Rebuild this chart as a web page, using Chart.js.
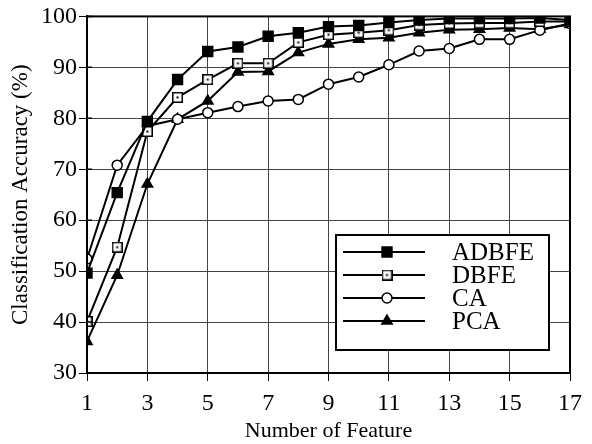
<!DOCTYPE html>
<html>
<head>
<meta charset="utf-8">
<script src="https://cdn.jsdelivr.net/npm/chart.js@4"></script>
<style>
  html, body { margin: 0; padding: 0; background: #fff; }
  canvas { display: block; }
</style>
</head>
<body>
<canvas id="chart" width="592" height="444"></canvas>
<script>
const features = [1, 2, 3, 4, 5, 6, 7, 8, 9, 10, 11, 12, 13, 14, 15, 16, 17];
const adbfe = [49.6, 65.4, 79.4, 87.6, 93.1, 94.0, 96.1, 96.8, 98.0, 98.2, 98.8, 99.3, 99.6, 99.6, 99.6, 99.7, 99.3];
const dbfe = [40.1, 54.7, 77.4, 84.1, 87.6, 90.8, 90.8, 94.9, 96.4, 96.8, 97.3, 98.3, 98.6, 98.7, 98.7, 99.0, 99.0];
const ca = [52.4, 70.8, 78.5, 79.8, 81.1, 82.3, 83.4, 83.7, 86.7, 88.1, 90.5, 93.2, 93.7, 95.5, 95.5, 97.3, 98.6];
const pca = [36.2, 49.2, 67.1, 79.8, 83.4, 89.1, 89.2, 92.9, 94.6, 95.5, 95.8, 96.8, 97.4, 97.5, 97.7, 97.5, 98.4];
const seriesNames = ["ADBFE", "DBFE", "CA", "PCA"];
const xTicks = [1, 3, 5, 7, 9, 11, 13, 15, 17];
const yTicks = [30, 40, 50, 60, 70, 80, 90, 100];

const FONT = "'Liberation Serif', 'Times New Roman', serif";

// open square with a small dot in the middle
function dottedSquare() {
  const c = document.createElement("canvas");
  c.width = 11; c.height = 11;
  const g = c.getContext("2d");
  g.fillStyle = "#fff";
  g.fillRect(0, 0, 11, 11);
  g.strokeStyle = "#000";
  g.lineWidth = 1.5;
  g.strokeRect(0.75, 0.75, 9.5, 9.5);
  g.fillStyle = "#000";
  g.fillRect(4.5, 4.5, 2, 2);
  return c;
}

const toPts = arr => arr.map((v, i) => ({ x: features[i], y: v }));

const styles = [
  { pointStyle: "rect", pointRadius: 7, pointBackgroundColor: "#000" },
  { pointStyle: dottedSquare(), pointRadius: 6, pointBackgroundColor: "#fff" },
  { pointStyle: "circle", pointRadius: 5, pointBackgroundColor: "#fff" },
  { pointStyle: "triangle", pointRadius: 6, pointBackgroundColor: "#000" }
];

const datasets = [adbfe, dbfe, ca, pca].map((arr, i) => Object.assign({
  label: seriesNames[i],
  data: toPts(arr),
  borderColor: "#000",
  borderWidth: 2,
  pointBorderColor: "#000",
  pointBorderWidth: 1.5,
  tension: 0
}, styles[i]));

// frame, inner tick marks and boxed legend
const framePlugin = {
  id: "frame",
  afterDatasetsDraw(chart) {
    const { ctx, chartArea: a, scales } = chart;
    ctx.save();
    ctx.strokeStyle = "#000";
    ctx.lineWidth = 2;
    ctx.strokeRect(a.left, a.top, a.right - a.left, a.bottom - a.top);
    ctx.lineWidth = 1.5;
    ctx.beginPath();
    yTicks.forEach(t => {
      const y = scales.y.getPixelForValue(t);
      ctx.moveTo(a.left, y); ctx.lineTo(a.left + 5, y);
    });
    ctx.stroke();

    // legend box
    const bx = a.right - 234, by = 235, bw = 213, bh = 115;
    ctx.fillStyle = "#fff";
    ctx.fillRect(bx, by, bw, bh);
    ctx.lineWidth = 2;
    ctx.strokeRect(bx, by, bw, bh);
    const rows = [252, 275, 298, 321];
    chart.data.datasets.forEach((ds, i) => {
      const y = rows[i];
      ctx.strokeStyle = "#000";
      ctx.lineWidth = 2;
      ctx.beginPath();
      ctx.moveTo(bx + 7, y); ctx.lineTo(bx + 89, y);
      ctx.stroke();
      ctx.fillStyle = ds.pointBackgroundColor;
      ctx.lineWidth = ds.pointBorderWidth;
      Chart.helpers.drawPoint(ctx, {
        pointStyle: ds.pointStyle,
        radius: ds.pointRadius,
        rotation: 0,
        borderWidth: ds.pointBorderWidth
      }, bx + 51, y);
      ctx.fillStyle = "#000";
      ctx.font = "25px " + FONT;
      ctx.textBaseline = "middle";
      ctx.textAlign = "left";
      ctx.fillText(ds.label, bx + 116, y + 1);
    });
    ctx.restore();
  }
};

new Chart(document.getElementById("chart"), {
  type: "line",
  data: { datasets },
  options: {
    responsive: false,
    animation: false,
    layout: { padding: { top: 12, right: 22, left: 0, bottom: 0 } },
    plugins: { legend: { display: false }, tooltip: { enabled: false } },
    scales: {
      x: {
        type: "linear",
        min: 1, max: 17,
        afterBuildTicks: s => { s.ticks = xTicks.map(v => ({ value: v })); },
        afterFit: s => { s.height = 71; },
        ticks: { color: "#000", font: { family: FONT, size: 24 }, padding: 8, maxRotation: 0 },
        grid: { color: "#444", lineWidth: 1, tickLength: 8, tickColor: "#000", tickBorderDash: [], borderDash: [1, 2] },
        border: { color: "#000", width: 2, dash: [] },
        title: { display: true, text: "Number of Feature", color: "#000", font: { family: FONT, size: 22 }, padding: { top: -14, bottom: 0 } }
      },
      y: {
        min: 30, max: 100,
        afterBuildTicks: s => { s.ticks = yTicks.map(v => ({ value: v })); },
        afterFit: s => { s.width = 87; },
        ticks: { color: "#000", font: { family: FONT, size: 24 }, padding: 2 },
        grid: { color: "#444", lineWidth: 1, tickLength: 8, tickColor: "#000", borderDash: [1, 2] },
        border: { color: "#000", width: 2 },
        title: { display: true, text: "Classification Accuracy (%)", color: "#000", font: { family: FONT, size: 23 }, padding: { top: 7, bottom: 0 } }
      }
    }
  },
  plugins: [framePlugin]
});
</script>
</body>
</html>
